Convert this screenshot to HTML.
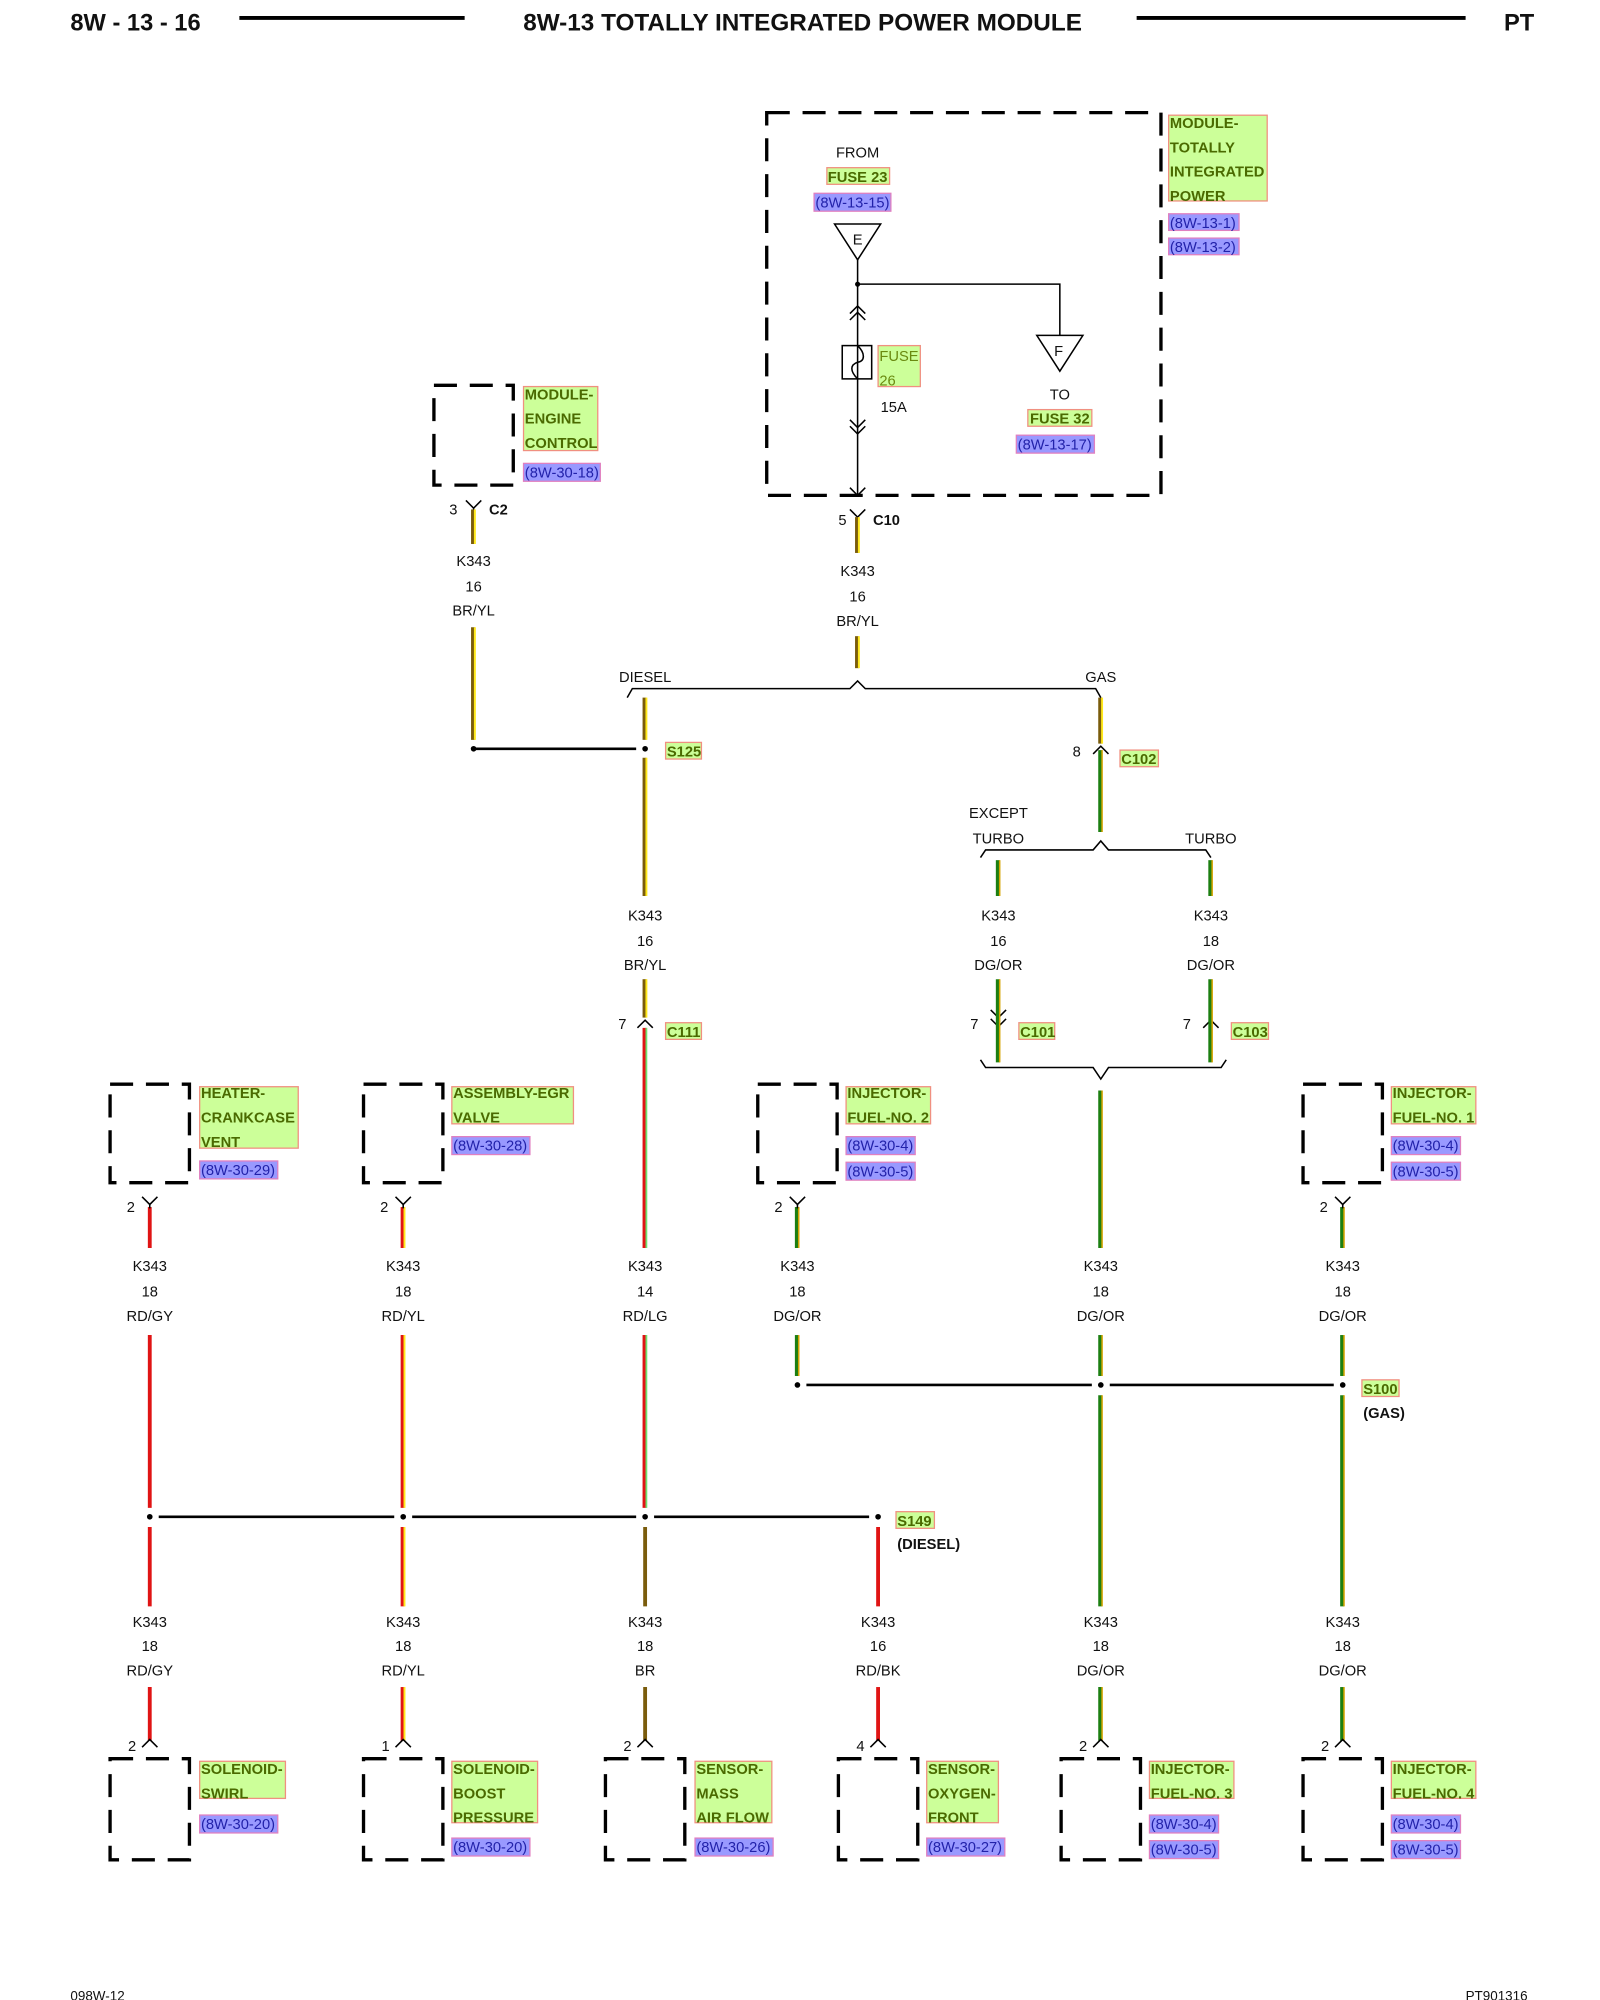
<!DOCTYPE html>
<html><head><meta charset="utf-8"><style>
html,body{margin:0;padding:0;background:#fff}
svg{display:block}
text{font-family:"Liberation Sans",sans-serif;font-size:11.5px;fill:#111}
.c{text-anchor:middle}
.b{font-weight:bold}
.lb{fill:#ccff99;stroke:#f09080;stroke-width:1}
.lt{font-weight:bold;fill:#4a6a00;font-size:11.5px}
.rb{fill:#9999ff;stroke:#e080c0;stroke-width:1}
.rt{fill:#2222aa;font-size:11.5px}
.dash{fill:none;stroke:#000;stroke-width:2.6;stroke-dasharray:18,10}
.br{stroke:#7a5c0c;stroke-width:3}
.yl{stroke:#ffe81a;stroke-width:1.5}
.dg{stroke:#1c7f12;stroke-width:3}
.or{stroke:#d4a300;stroke-width:1.2}
.rd{stroke:#e01414;stroke-width:3}
.gy{stroke:#b0b0b0;stroke-width:1}
.lg{stroke:#70e070;stroke-width:1.4}
.bk{stroke:#000;stroke-width:1}
.k{stroke:#000;stroke-width:1.2;fill:none}
.k2{stroke:#000;stroke-width:2;fill:none}
</style></head><body>
<svg width="1600" height="2000" viewBox="0 0 1250 1562.5" xmlns="http://www.w3.org/2000/svg">
<defs>
<path id="Y" d="M-6,-6 L0,0 L6,-6 M0,0 L0,3" class="k"/>
<path id="U" d="M-6,6 L0,0 L6,6" class="k"/>
<path id="D" d="M-6,-6 L0,0 L6,-6" class="k"/>
</defs>
<!-- header -->
<text x="55" y="24" class="b" style="font-size:18.5px">8W - 13 - 16</text>
<line x1="187" y1="14" x2="363" y2="14" stroke="#000" stroke-width="3"/>
<text x="627" y="24" class="b c" style="font-size:19px">8W-13 TOTALLY INTEGRATED POWER MODULE</text>
<line x1="888" y1="14" x2="1145" y2="14" stroke="#000" stroke-width="3"/>
<text x="1175" y="24" class="b" style="font-size:18.5px">PT</text>
<text x="55" y="1563" style="font-size:10.5px">098W-12</text>
<text x="1145" y="1563" style="font-size:10.5px">PT901316</text>

<!-- TIPM -->
<rect x="599" y="88" width="308" height="299" class="dash"/>
<rect x="913" y="90" width="77" height="67" class="lb"/>
<text x="914" y="100" class="lt">MODULE-</text><text x="914" y="119" class="lt">TOTALLY</text><text x="914" y="138" class="lt">INTEGRATED</text><text x="914" y="157" class="lt">POWER</text>
<rect x="913" y="167" width="55" height="13" class="rb"/><text x="914" y="178" class="rt">(8W-13-1)</text>
<rect x="913" y="186" width="55" height="13" class="rb"/><text x="914" y="197" class="rt">(8W-13-2)</text>
<text x="670" y="123" class="c">FROM</text>
<rect x="646" y="131" width="49" height="13" class="lb"/><text x="670" y="142" class="c lt">FUSE 23</text>
<rect x="636" y="151" width="60" height="14" class="rb"/><text x="666" y="162" class="c rt">(8W-13-15)</text>
<polygon points="652,175 688,175 670,203" class="k"/><text x="670" y="191" class="c">E</text>
<line x1="670" y1="203" x2="670" y2="387" class="k"/>
<circle cx="670" cy="222" r="2" fill="#000"/>
<polyline points="670,222 828,222 828,262" class="k"/>
<polygon points="810,262 846,262 828,290" class="k"/><text x="827" y="278" class="c">F</text>
<text x="828" y="312" class="c">TO</text>
<rect x="803" y="320" width="50" height="13" class="lb"/><text x="828" y="331" class="c lt">FUSE 32</text>
<rect x="794" y="340" width="61" height="14" class="rb"/><text x="824" y="351" class="c rt">(8W-13-17)</text>
<path d="M664,245 L670,239 L676,245 M664,250 L670,244 L676,250" class="k"/>
<rect x="658" y="270" width="23" height="26" class="k" fill="#fff"/>
<path d="M670,270 C676,276 676,282 670,283 C664,285 664,290 670,296" class="k"/>
<path d="M664,328 L670,334 L676,328 M664,333 L670,339 L676,333" class="k"/>
<rect x="686" y="270" width="33" height="32" class="lb"/>
<text x="687" y="282" style="fill:#6a8a10;font-size:11.5px">FUSE</text><text x="687" y="301" style="fill:#6a8a10;font-size:11.5px">26</text>
<text x="688" y="322">15A</text>
<path d="M664,381 L670,387 L676,381" class="k"/>

<!-- C10 -->
<use href="#Y" x="670" y="404"/>
<text x="655" y="410">5</text><text x="682" y="410" class="b">C10</text>
<text x="670" y="450" class="c">K343</text><text x="670" y="470" class="c">16</text><text x="670" y="489" class="c">BR/YL</text>

<!-- ECM -->
<rect x="339" y="301" width="62" height="78" class="dash"/>
<rect x="409" y="302" width="58" height="50" class="lb"/>
<text x="410" y="312" class="lt">MODULE-</text><text x="410" y="331" class="lt">ENGINE</text><text x="410" y="350" class="lt">CONTROL</text>
<rect x="409" y="362" width="60" height="14" class="rb"/><text x="410" y="373" class="rt">(8W-30-18)</text>
<use href="#Y" x="370" y="397"/>
<text x="351" y="402">3</text><text x="382" y="402" class="b">C2</text>
<text x="370" y="442" class="c">K343</text><text x="370" y="462" class="c">16</text><text x="370" y="481" class="c">BR/YL</text>

<!-- BR/YL wires -->
<g>
<line x1="369.5" y1="398" x2="369.5" y2="425" class="br"/><line x1="371" y1="398" x2="371" y2="425" class="yl"/>
<line x1="369.5" y1="490" x2="369.5" y2="578" class="br"/><line x1="371" y1="490" x2="371" y2="578" class="yl"/>
<line x1="669.5" y1="404" x2="669.5" y2="432" class="br"/><line x1="671" y1="404" x2="671" y2="432" class="yl"/>
<line x1="669.5" y1="497" x2="669.5" y2="522" class="br"/><line x1="671" y1="497" x2="671" y2="522" class="yl"/>
<line x1="503.5" y1="545" x2="503.5" y2="578" class="br"/><line x1="505" y1="545" x2="505" y2="578" class="yl"/>
<line x1="503.5" y1="592" x2="503.5" y2="700" class="br"/><line x1="505" y1="592" x2="505" y2="700" class="yl"/>
<line x1="503.5" y1="765" x2="503.5" y2="795" class="br"/><line x1="505" y1="765" x2="505" y2="795" class="yl"/>
<line x1="859.5" y1="545" x2="859.5" y2="581" class="br"/><line x1="861" y1="545" x2="861" y2="581" class="yl"/>
</g>
<!-- brace diesel/gas -->
<path d="M490,545 L494,538 L664,538 L670,532 L676,538 L856,538 L860,545" class="k"/>
<text x="504" y="533" class="c">DIESEL</text><text x="860" y="533" class="c">GAS</text>
<line x1="370" y1="585" x2="497" y2="585" class="k2"/>
<circle cx="370" cy="585" r="2.2" fill="#000"/><circle cx="504" cy="585" r="2.2" fill="#000"/>
<rect x="520" y="580" width="28" height="13" class="lb"/><text x="521" y="591" class="lt">S125</text>
<text x="504" y="719" class="c">K343</text><text x="504" y="739" class="c">16</text><text x="504" y="758" class="c">BR/YL</text>
<use href="#U" x="504" y="797"/><text x="483" y="804">7</text>
<rect x="520" y="799" width="28" height="13" class="lb"/><text x="521" y="810" class="lt">C111</text>

<!-- gas -->
<use href="#U" x="860" y="583"/><text x="838" y="591">8</text>
<rect x="875" y="586" width="30" height="13" class="lb"/><text x="876" y="597" class="lt">C102</text>
<text x="780" y="639" class="c">EXCEPT</text><text x="780" y="659" class="c">TURBO</text><text x="946" y="659" class="c">TURBO</text>
<path d="M766,670 L770,664 L854,664 L860,657 L866,664 L942,664 L946,670" class="k"/>
<text x="780" y="719" class="c">K343</text><text x="780" y="739" class="c">16</text><text x="780" y="758" class="c">DG/OR</text>
<text x="946" y="719" class="c">K343</text><text x="946" y="739" class="c">18</text><text x="946" y="758" class="c">DG/OR</text>
<use href="#D" x="780" y="795"/><use href="#D" x="780" y="802"/><text x="758" y="804">7</text>
<rect x="796" y="799" width="28" height="13" class="lb"/><text x="797" y="810" class="lt">C101</text>
<use href="#U" x="946" y="797"/><text x="924" y="804">7</text>
<rect x="962" y="799" width="29" height="13" class="lb"/><text x="963" y="810" class="lt">C103</text>
<path d="M766,828 L770,834 L854,834 L860,843 L866,834 L954,834 L958,828" class="k"/>

<!-- DG/OR wires -->
<g>
<line x1="859.5" y1="586" x2="859.5" y2="650" class="dg"/><line x1="861" y1="586" x2="861" y2="650" class="or"/>
<line x1="779.5" y1="672" x2="779.5" y2="700" class="dg"/><line x1="781" y1="672" x2="781" y2="700" class="or"/>
<line x1="945.5" y1="672" x2="945.5" y2="700" class="dg"/><line x1="947" y1="672" x2="947" y2="700" class="or"/>
<line x1="779.5" y1="765" x2="779.5" y2="830" class="dg"/><line x1="781" y1="765" x2="781" y2="830" class="or"/>
<line x1="945.5" y1="765" x2="945.5" y2="830" class="dg"/><line x1="947" y1="765" x2="947" y2="830" class="or"/>
<line x1="859.5" y1="852" x2="859.5" y2="975" class="dg"/><line x1="861" y1="852" x2="861" y2="975" class="or"/>
<line x1="622.5" y1="943" x2="622.5" y2="975" class="dg"/><line x1="624" y1="943" x2="624" y2="975" class="or"/>
<line x1="622.5" y1="1043" x2="622.5" y2="1075" class="dg"/><line x1="624" y1="1043" x2="624" y2="1075" class="or"/>
<line x1="859.5" y1="1043" x2="859.5" y2="1075" class="dg"/><line x1="861" y1="1043" x2="861" y2="1075" class="or"/>
<line x1="859.5" y1="1090" x2="859.5" y2="1255" class="dg"/><line x1="861" y1="1090" x2="861" y2="1255" class="or"/>
<line x1="859.5" y1="1318" x2="859.5" y2="1360" class="dg"/><line x1="861" y1="1318" x2="861" y2="1360" class="or"/>
<line x1="1048.5" y1="943" x2="1048.5" y2="975" class="dg"/><line x1="1050" y1="943" x2="1050" y2="975" class="or"/>
<line x1="1048.5" y1="1043" x2="1048.5" y2="1075" class="dg"/><line x1="1050" y1="1043" x2="1050" y2="1075" class="or"/>
<line x1="1048.5" y1="1090" x2="1048.5" y2="1255" class="dg"/><line x1="1050" y1="1090" x2="1050" y2="1255" class="or"/>
<line x1="1048.5" y1="1318" x2="1048.5" y2="1360" class="dg"/><line x1="1050" y1="1318" x2="1050" y2="1360" class="or"/>
</g>
<!-- red wires -->
<g>
<line x1="503.5" y1="803" x2="503.5" y2="975" class="rd"/><line x1="505" y1="803" x2="505" y2="975" class="lg"/>
<line x1="503.5" y1="1043" x2="503.5" y2="1178" class="rd"/><line x1="505" y1="1043" x2="505" y2="1178" class="lg"/>
<line x1="117" y1="943" x2="117" y2="975" class="rd"/><line x1="117" y1="1043" x2="117" y2="1178" class="rd"/><line x1="117" y1="1193" x2="117" y2="1255" class="rd"/><line x1="117" y1="1318" x2="117" y2="1360" class="rd"/>
<line x1="314.5" y1="943" x2="314.5" y2="975" class="rd"/><line x1="316" y1="943" x2="316" y2="975" class="yl"/>
<line x1="314.5" y1="1043" x2="314.5" y2="1178" class="rd"/><line x1="316" y1="1043" x2="316" y2="1178" class="yl"/>
<line x1="314.5" y1="1193" x2="314.5" y2="1255" class="rd"/><line x1="316" y1="1193" x2="316" y2="1255" class="yl"/>
<line x1="314.5" y1="1318" x2="314.5" y2="1360" class="rd"/><line x1="316" y1="1318" x2="316" y2="1360" class="yl"/>
<line x1="504" y1="1193" x2="504" y2="1255" stroke="#7a5c0c" stroke-width="3"/><line x1="504" y1="1318" x2="504" y2="1360" stroke="#7a5c0c" stroke-width="3"/>
<line x1="686" y1="1193" x2="686" y2="1255" class="rd"/><line x1="686" y1="1318" x2="686" y2="1360" class="rd"/>
</g>

<!-- middle row components -->
<rect x="86" y="847" width="62" height="77" class="dash"/>
<rect x="156" y="849" width="77" height="48" class="lb"/>
<text x="157" y="858" class="lt">HEATER-</text><text x="157" y="877" class="lt">CRANKCASE</text><text x="157" y="896" class="lt">VENT</text>
<rect x="156" y="907" width="61" height="14" class="rb"/><text x="157" y="918" class="rt">(8W-30-29)</text>
<use href="#Y" x="117" y="941"/><text x="99" y="947">2</text>

<rect x="284" y="847" width="62" height="77" class="dash"/>
<rect x="353" y="849" width="95" height="29" class="lb"/>
<text x="354" y="858" class="lt">ASSEMBLY-EGR</text><text x="354" y="877" class="lt">VALVE</text>
<rect x="353" y="888" width="61" height="14" class="rb"/><text x="354" y="899" class="rt">(8W-30-28)</text>
<use href="#Y" x="315" y="941"/><text x="297" y="947">2</text>

<rect x="592" y="847" width="62" height="77" class="dash"/>
<rect x="661" y="849" width="66" height="29" class="lb"/>
<text x="662" y="858" class="lt">INJECTOR-</text><text x="662" y="877" class="lt">FUEL-NO. 2</text>
<rect x="661" y="888" width="54" height="14" class="rb"/><text x="662" y="899" class="rt">(8W-30-4)</text>
<rect x="661" y="908" width="54" height="14" class="rb"/><text x="662" y="919" class="rt">(8W-30-5)</text>
<use href="#Y" x="623" y="941"/><text x="605" y="947">2</text>

<rect x="1018" y="847" width="62" height="77" class="dash"/>
<rect x="1087" y="849" width="66" height="29" class="lb"/>
<text x="1088" y="858" class="lt">INJECTOR-</text><text x="1088" y="877" class="lt">FUEL-NO. 1</text>
<rect x="1087" y="888" width="54" height="14" class="rb"/><text x="1088" y="899" class="rt">(8W-30-4)</text>
<rect x="1087" y="908" width="54" height="14" class="rb"/><text x="1088" y="919" class="rt">(8W-30-5)</text>
<use href="#Y" x="1049" y="941"/><text x="1031" y="947">2</text>

<!-- mid labels -->
<text x="117" y="993" class="c">K343</text><text x="117" y="1013" class="c">18</text><text x="117" y="1032" class="c">RD/GY</text>
<text x="315" y="993" class="c">K343</text><text x="315" y="1013" class="c">18</text><text x="315" y="1032" class="c">RD/YL</text>
<text x="504" y="993" class="c">K343</text><text x="504" y="1013" class="c">14</text><text x="504" y="1032" class="c">RD/LG</text>
<text x="623" y="993" class="c">K343</text><text x="623" y="1013" class="c">18</text><text x="623" y="1032" class="c">DG/OR</text>
<text x="860" y="993" class="c">K343</text><text x="860" y="1013" class="c">18</text><text x="860" y="1032" class="c">DG/OR</text>
<text x="1049" y="993" class="c">K343</text><text x="1049" y="1013" class="c">18</text><text x="1049" y="1032" class="c">DG/OR</text>

<!-- S100 -->
<path d="M630,1082 L853,1082 M867,1082 L1042,1082" class="k2"/>
<circle cx="623" cy="1082" r="2.2" fill="#000"/><circle cx="860" cy="1082" r="2.2" fill="#000"/><circle cx="1049" cy="1082" r="2.2" fill="#000"/>
<rect x="1064" y="1078" width="29" height="13" class="lb"/><text x="1065" y="1089" class="lt">S100</text>
<text x="1065" y="1108" class="b">(GAS)</text>

<!-- S149 -->
<path d="M124,1185 L308,1185 M322,1185 L497,1185 M511,1185 L679,1185" class="k2"/>
<circle cx="117" cy="1185" r="2.2" fill="#000"/><circle cx="315" cy="1185" r="2.2" fill="#000"/><circle cx="504" cy="1185" r="2.2" fill="#000"/><circle cx="686" cy="1185" r="2.2" fill="#000"/>
<rect x="700" y="1181" width="30" height="13" class="lb"/><text x="701" y="1192" class="lt">S149</text>
<text x="701" y="1210" class="b">(DIESEL)</text>

<!-- lower labels -->
<text x="117" y="1271" class="c">K343</text><text x="117" y="1290" class="c">18</text><text x="117" y="1309" class="c">RD/GY</text>
<text x="315" y="1271" class="c">K343</text><text x="315" y="1290" class="c">18</text><text x="315" y="1309" class="c">RD/YL</text>
<text x="504" y="1271" class="c">K343</text><text x="504" y="1290" class="c">18</text><text x="504" y="1309" class="c">BR</text>
<text x="686" y="1271" class="c">K343</text><text x="686" y="1290" class="c">16</text><text x="686" y="1309" class="c">RD/BK</text>
<text x="860" y="1271" class="c">K343</text><text x="860" y="1290" class="c">18</text><text x="860" y="1309" class="c">DG/OR</text>
<text x="1049" y="1271" class="c">K343</text><text x="1049" y="1290" class="c">18</text><text x="1049" y="1309" class="c">DG/OR</text>

<!-- bottom connectors -->
<use href="#U" x="117" y="1359"/><text x="100" y="1368">2</text>
<use href="#U" x="315" y="1359"/><text x="298" y="1368">1</text>
<use href="#U" x="504" y="1359"/><text x="487" y="1368">2</text>
<use href="#U" x="686" y="1359"/><text x="669" y="1368">4</text>
<use href="#U" x="860" y="1359"/><text x="843" y="1368">2</text>
<use href="#U" x="1049" y="1359"/><text x="1032" y="1368">2</text>

<!-- bottom components -->
<rect x="86" y="1374" width="62" height="79" class="dash"/>
<rect x="156" y="1376" width="67" height="29" class="lb"/>
<text x="157" y="1386" class="lt">SOLENOID-</text><text x="157" y="1405" class="lt">SWIRL</text>
<rect x="156" y="1418" width="61" height="14" class="rb"/><text x="157" y="1429" class="rt">(8W-30-20)</text>

<rect x="284" y="1374" width="62" height="79" class="dash"/>
<rect x="353" y="1376" width="67" height="48" class="lb"/>
<text x="354" y="1386" class="lt">SOLENOID-</text><text x="354" y="1405" class="lt">BOOST</text><text x="354" y="1424" class="lt">PRESSURE</text>
<rect x="353" y="1436" width="61" height="14" class="rb"/><text x="354" y="1447" class="rt">(8W-30-20)</text>

<rect x="473" y="1374" width="62" height="79" class="dash"/>
<rect x="543" y="1376" width="60" height="48" class="lb"/>
<text x="544" y="1386" class="lt">SENSOR-</text><text x="544" y="1405" class="lt">MASS</text><text x="544" y="1424" class="lt">AIR FLOW</text>
<rect x="543" y="1436" width="61" height="14" class="rb"/><text x="544" y="1447" class="rt">(8W-30-26)</text>

<rect x="655" y="1374" width="62" height="79" class="dash"/>
<rect x="724" y="1376" width="56" height="48" class="lb"/>
<text x="725" y="1386" class="lt">SENSOR-</text><text x="725" y="1405" class="lt">OXYGEN-</text><text x="725" y="1424" class="lt">FRONT</text>
<rect x="724" y="1436" width="61" height="14" class="rb"/><text x="725" y="1447" class="rt">(8W-30-27)</text>

<rect x="829" y="1374" width="62" height="79" class="dash"/>
<rect x="898" y="1376" width="66" height="29" class="lb"/>
<text x="899" y="1386" class="lt">INJECTOR-</text><text x="899" y="1405" class="lt">FUEL-NO. 3</text>
<rect x="898" y="1418" width="54" height="14" class="rb"/><text x="899" y="1429" class="rt">(8W-30-4)</text>
<rect x="898" y="1438" width="54" height="14" class="rb"/><text x="899" y="1449" class="rt">(8W-30-5)</text>

<rect x="1018" y="1374" width="62" height="79" class="dash"/>
<rect x="1087" y="1376" width="66" height="29" class="lb"/>
<text x="1088" y="1386" class="lt">INJECTOR-</text><text x="1088" y="1405" class="lt">FUEL-NO. 4</text>
<rect x="1087" y="1418" width="54" height="14" class="rb"/><text x="1088" y="1429" class="rt">(8W-30-4)</text>
<rect x="1087" y="1438" width="54" height="14" class="rb"/><text x="1088" y="1449" class="rt">(8W-30-5)</text>
</svg>
</body></html>
